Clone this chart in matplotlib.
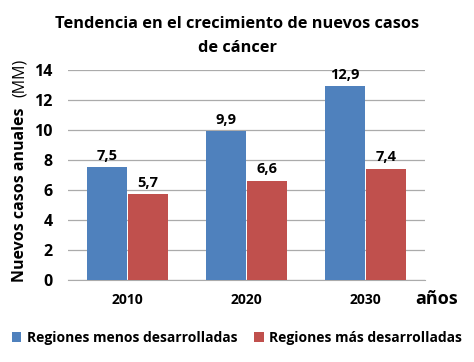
import matplotlib.pyplot as plt
import numpy as np

# Data
years = ['2010', '2020', '2030']
menos = [7.5, 9.9, 12.9]
mas = [5.7, 6.6, 7.4]
labels_menos = ['7,5', '9,9', '12,9']
labels_mas = ['5,7', '6,6', '7,4']
series_names = ['Regiones menos desarrolladas', 'Regiones más desarrolladas']
colors = ['#4F81BD', '#C0504D']

plt.rcParams['font.family'] = ['Open Sans', 'DejaVu Sans']

fig = plt.figure(figsize=(4.74, 3.62), dpi=100)
ax = fig.add_axes([0.143, 0.2265, 0.754, 0.581])

x = np.arange(len(years))
w = 0.335
b1 = ax.bar(x - w / 2 - 0.003, menos, w, color=colors[0], label=series_names[0], zorder=3)
b2 = ax.bar(x + w / 2 + 0.003, mas, w, color=colors[1], label=series_names[1], zorder=3)

for rect, lab in zip(b1, labels_menos):
    ax.text(rect.get_x() + rect.get_width() / 2, rect.get_height() + 0.3, lab,
            ha='center', va='bottom', fontsize=10.5, fontweight='bold')
for rect, lab in zip(b2, labels_mas):
    ax.text(rect.get_x() + rect.get_width() / 2, rect.get_height() + 0.3, lab,
            ha='center', va='bottom', fontsize=10.5, fontweight='bold')

ax.set_xlim(-0.5, 2.5)
ax.set_ylim(0, 14)
ax.set_yticks(range(0, 15, 2))
ax.set_xticks(x)
ax.set_xticklabels(years, fontsize=10, fontweight='bold')
ax.tick_params(axis='y', labelsize=11.5, length=0, pad=11)
ax.tick_params(axis='x', length=0, pad=9)
for lbl in ax.get_yticklabels():
    lbl.set_fontweight('bold')

ax.yaxis.grid(True, color='#ABABAB', linewidth=0.9, zorder=0)
for s in ['top', 'right', 'left']:
    ax.spines[s].set_visible(False)
ax.spines['bottom'].set_color('#ABABAB')

# y label: bold part + regular part
fig.text(0.042, 0.462, 'Nuevos casos anuales', rotation=90, ha='center', va='center',
         fontsize=11.5, fontweight='bold')
fig.text(0.042, 0.785, '(MM)', rotation=90, ha='center', va='center', fontsize=11.5)

fig.text(0.877, 0.175, 'años', ha='left', va='center', fontsize=13, fontweight='bold')

fig.text(0.5, 0.935, 'Tendencia en el crecimiento de nuevos casos', ha='center', va='center',
         fontsize=11.8, fontweight='bold')
fig.text(0.5, 0.868, 'de cáncer', ha='center', va='center', fontsize=11.8, fontweight='bold')

fig.legend(handles=[b1, b2], loc='center', bbox_to_anchor=(0.5, 0.066), ncol=2, frameon=False,
           prop={'size': 10, 'weight': 'bold'}, handlelength=0.7, handleheight=0.7,
           columnspacing=1.2, handletextpad=0.4)

fig.savefig('out.png', dpi=100)
